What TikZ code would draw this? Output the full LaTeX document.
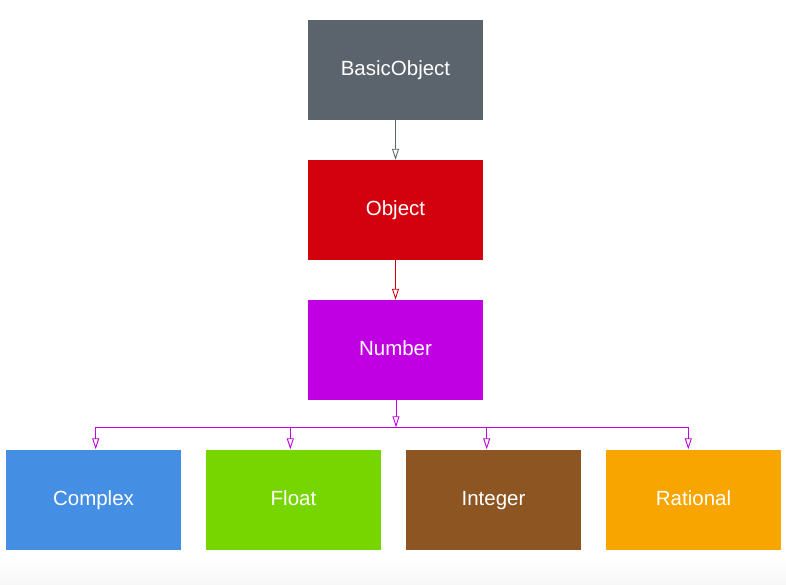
\documentclass[tikz,border=0pt]{standalone}
\usepackage{fontspec}
\setmainfont{Liberation Sans}
\usetikzlibrary{arrows.meta,positioning}
\definecolor{cgray}{HTML}{5B646D}
\definecolor{cred}{HTML}{D3000E}
\definecolor{cmag}{HTML}{C000E2}
\definecolor{cblue}{HTML}{448EE4}
\definecolor{cgreen}{HTML}{77D600}
\definecolor{cbrown}{HTML}{8C5522}
\definecolor{corange}{HTML}{F8A500}
\tikzset{
  classbox/.style={draw=none, minimum width=175pt, minimum height=100pt, inner sep=0pt,
    text=white, font=\fontsize{20.5}{24}\selectfont, anchor=center,
    text height=14.5pt, text depth=3.5pt},
  inh/.style={-{Triangle[open,length=11pt,width=7pt]}, line width=0.9pt},
}
\begin{document}
\begin{tikzpicture}[x=1pt,y=-1pt]
\useasboundingbox (0,0) rectangle (786,584);
\shade[top color=white, bottom color=black!3, draw=none] (0,556) rectangle (786,584);
\node[classbox, fill=cgray] (basic) at (395.5,70) {BasicObject};
\node[classbox, fill=cred] (object) at (395.5,210) {Object};
\node[classbox, fill=cmag] (number) at (395.5,350) {Number};
\node[classbox, fill=cblue] (complex) at (93.5,499.5) {Complex};
\node[classbox, fill=cgreen] (float) at (293.5,499.5) {Float};
\node[classbox, fill=cbrown] (integer) at (493.5,499.5) {Integer};
\node[classbox, fill=corange] (rational) at (693.5,499.5) {Rational};
\coordinate (j) at (396,427.3);
\draw[inh, draw=cgray] (basic.south) -- (object.north);
\draw[inh, draw=cred] (object.south) -- (object.south |- number.north);
\draw[inh, draw=cmag] ([xshift=0.5pt]number.south) -- (j);
\draw[inh, draw=cmag] (j) -| ([xshift=2.2pt]complex.north);
\draw[inh, draw=cmag] (j) -| ([xshift=-3.2pt]float.north);
\draw[inh, draw=cmag] (j) -| ([xshift=-6.8pt]integer.north);
\draw[inh, draw=cmag] (j) -| ([xshift=-5.2pt]rational.north);
\end{tikzpicture}
\end{document}
